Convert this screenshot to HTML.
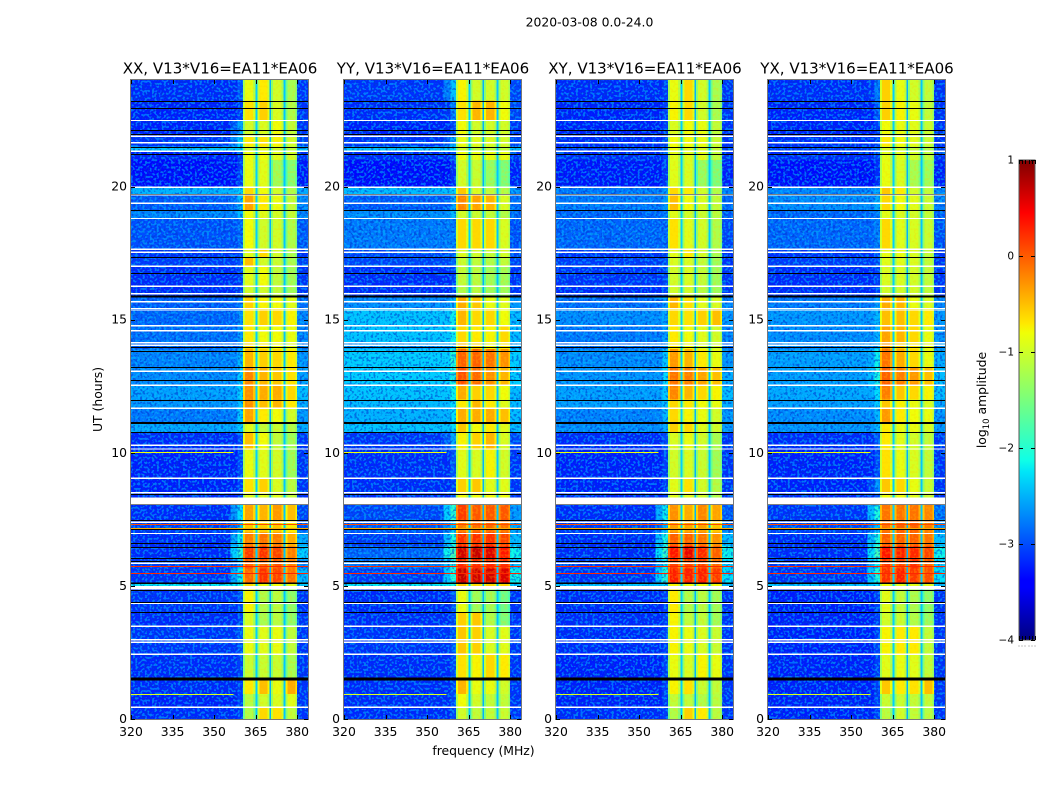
<!DOCTYPE html>
<html lang="en">
<head>
<meta charset="utf-8">
<title>2020-03-08 spectrogram</title>
<style>
html,body{margin:0;padding:0;background:#fff;}
svg{display:block;}
text{font-family:"DejaVu Sans","Liberation Sans",sans-serif;fill:#000;}
</style>
</head>
<body>
<svg id="fig" xmlns="http://www.w3.org/2000/svg" width="1050" height="800" viewBox="0 0 1050 800">
  <defs>
    <linearGradient id="jet" x1="0" y1="1" x2="0" y2="0">
      <stop offset="0" stop-color="#00007f"/>
      <stop offset="0.11" stop-color="#0000ff"/>
      <stop offset="0.125" stop-color="#0000ff"/>
      <stop offset="0.35" stop-color="#00e5f8"/>
      <stop offset="0.375" stop-color="#10ffe6"/>
      <stop offset="0.64" stop-color="#f0ff06"/>
      <stop offset="0.66" stop-color="#ffe800"/>
      <stop offset="0.89" stop-color="#ff0000"/>
      <stop offset="0.91" stop-color="#e80000"/>
      <stop offset="1" stop-color="#7f0000"/>
    </linearGradient>
    <filter id="speckDark" x="0" y="0" width="100%" height="100%">
      <feTurbulence type="fractalNoise" baseFrequency="0.42" numOctaves="1" seed="4"/>
      <feColorMatrix type="matrix" values="0 0 0 0 0  0 0 0 0 0.04  0 0 0 0 0.62  12 0 0 0 -6.2"/>
    </filter>
    <filter id="speckLight" x="0" y="0" width="100%" height="100%">
      <feTurbulence type="fractalNoise" baseFrequency="0.42" numOctaves="1" seed="11"/>
      <feColorMatrix type="matrix" values="0 0 0 0 0  0 0 0 0 0.55  0 0 0 0 1  12 0 0 0 -6.2"/>
    </filter>
    <filter id="speckWarm" x="0" y="0" width="100%" height="100%">
      <feTurbulence type="fractalNoise" baseFrequency="0.42" numOctaves="1" seed="23"/>
      <feColorMatrix type="matrix" values="0 0 0 0 1  0 0 0 0 0.62  0 0 0 0 0  12 0 0 0 -6.2"/>
    </filter>
  </defs>
  <text x="589.5" y="26.5" font-size="12.4" text-anchor="middle">2020-03-08 0.0-24.0</text>
  <g id="panels"></g>
  <text x="483.5" y="755" font-size="12.4" text-anchor="middle">frequency (MHz)</text>
  <text x="0" y="0" font-size="12.4" text-anchor="middle" transform="translate(102,399.5) rotate(-90)">UT (hours)</text>
  <g id="colorbar">
    <rect x="1019" y="160" width="16" height="480" fill="url(#jet)"/>
    <rect x="1019" y="160" width="16" height="480" fill="none" stroke="#555" stroke-width="1"/>
  </g>
  <text x="0" y="0" font-size="12.4" text-anchor="middle" transform="translate(986,400) rotate(-90)">log<tspan font-size="8.5" dy="3">10</tspan><tspan dy="-3"> amplitude</tspan></text>
</svg>
<script>
const NS = 'http://www.w3.org/2000/svg';

// ---- categories and tick labels ----
const panelTitles = ['XX, V13*V16=EA11*EA06', 'YY, V13*V16=EA11*EA06', 'XY, V13*V16=EA11*EA06', 'YX, V13*V16=EA11*EA06'];
const freqTicks = [320, 335, 350, 365, 380];
const hourTicks = [0, 5, 10, 15, 20];
const colorTicks = [1, 0, -1, -2, -3, -4];
const colorTickLabels = ['1', '0', '\u22121', '\u22122', '\u22123', '\u22124'];

// time-block edges in hours (UT)
const timeEdges = [0, .44, .93, 1.47, 2.43, 3.47, 4.01, 4.9, 5.1, 5.65, 6.0, 6.5, 7.0, 7.45, 8.06, 8.5, 9.04, 10.14, 10.77, 11.12, 11.67, 12.0, 12.54, 13.2, 13.9, 14.1, 14.77, 15.4, 15.87, 16.25, 17.0, 17.34, 17.64, 18.8, 19.1, 19.7, 19.97, 21.0, 21.32, 21.5, 21.9, 22.48, 23.23, 24];

// frequency channels in MHz: low edge, high edge, level source
const chanLow  = [320, 352, 356, 358.4, 360.4, 361.2, 364.1, 364.9, 365.6, 366.3, 369.2, 370, 370.6, 371.3, 374.4, 375.1, 375.8, 376.5, 379.3, 380];
const chanHigh = [352, 356, 358.4, 360.4, 361.2, 364.1, 364.9, 365.6, 366.3, 369.2, 370, 370.6, 371.3, 374.4, 375.1, 375.8, 376.5, 379.3, 380, 384];
// source column per channel: 0 bg, 1 transition, 2-5 sub-bands, 6 right edge, -1 flagged gap
const chanSource = [0, 0, 1, 1, 2, 2, 2, -1, 3, 3, 3, -1, 4, 4, 4, -1, 5, 5, 5, 6];
// level offset (log10) of each channel relative to its source
const chanOffset = [-.2, -.2, -.45, -.08, -.4, 0, -.3, -2.35, -.4, 0, -.3, -2.5, -.4, 0, -.3, -2.4, -.35, 0, -.3, -.15];

// log10 amplitude per time block, bottom to top: [bg, transition, s1, s2, s3, s4, right]
const levelsXX = [
[-3,-3,-1.2,-.6,-.65,-1.1,-3],[-3.05,-3,-1.15,-1,-.95,-.9,-3],[-3,-3,-.7,-.45,-.85,-.35,-3],[-3,-3,-1.05,-1.05,-1.05,-1.25,-3],
[-2.95,-2.9,-.85,-.9,-.85,-1.1,-3],[-3,-3,-.95,-1.25,-1.15,-1.4,-3],[-2.95,-2.9,-.75,-1.2,-1.15,-1.4,-3],[-2,-2,-.6,-.8,-.8,-.9,-2.2],
[-2.95,-2.1,0,.3,.2,-.05,-2.3],[-2.9,-2.4,.1,.05,.1,-.1,-2.7],[-3,-1.9,.25,.3,.2,-.1,-2.2],[-3,-2.1,-.1,-.05,-.1,-.35,-2.4],
[-2.9,-2.4,-.5,-.55,-.5,-.7,-2.8],[-3,-2.2,-.3,-.4,-.25,-.45,-2.9],[-3,-3,-.9,-.9,-.9,-1.1,-3],[-3.05,-3,-.65,-.55,-.95,-1.15,-3],
[-3.05,-2.95,-.85,-.9,-1,-1.3,-3],[-3,-2.95,-.45,-.8,-1.1,-1.3,-3],[-2.35,-2.3,-.9,-1.1,-1.05,-1.2,-2.4],[-2.6,-2.3,-.3,-.7,-.8,-1,-2.5],
[-2.45,-2.35,-.2,-.45,-.4,-.7,-2.4],[-2.4,-2.25,-.2,-.35,-.35,-.6,-2.3],[-2.5,-2.3,-.15,-.4,-.5,-.65,-2.45],[-2.55,-2.4,-.4,-.55,-.6,-.7,-2.5],
[-2.7,-2.6,-.6,-.7,-.8,-.9,-2.6],[-2.65,-2.6,-.7,-.8,-.8,-.85,-2.6],[-2.7,-2.6,-.65,-.55,-.6,-.75,-2.6],[-2.75,-2.7,-.55,-.75,-.8,-.9,-2.7],
[-3,-3,-1,-1,-1.1,-1.3,-3],[-3,-3,-.9,-.8,-1.1,-1.3,-3],[-2.9,-2.9,-.45,-1,-1.05,-1.25,-2.9],[-2.95,-2.95,-.9,-.6,-1,-1.25,-3],
[-2.8,-2.8,-.8,-1,-1,-1.2,-2.8],[-2.55,-2.4,-.8,-.9,-1,-1.1,-2.6],[-2.75,-2.4,-.3,-.7,-.85,-1.1,-2.6],[-2.3,-2.3,-.6,-.8,-1,-1.2,-2.4],
[-3.15,-3,-.85,-.9,-1.3,-1.45,-3.15],[-3.05,-3,-.8,-.8,-.9,-1,-3],[-2.2,-2.2,-1,-.9,-1,-1.1,-2.2],[-2.95,-2.3,-.7,-.65,-.75,-1,-2.9],
[-3.05,-2.5,-1,-.95,-.8,-1.1,-3],[-3.05,-3,-.65,-.55,-.95,-1.2,-3],[-3,-2.9,-.85,-.7,-1,-1.25,-3]
];
const levelsYY = [
[-3,-2.95,-1,-1.1,-1.1,-1.05,-3],[-3,-2.95,-.8,-1,-1.1,-1.1,-3],[-3,-2.95,-.4,-.85,-.85,-1,-3],[-3,-2.95,-.65,-.75,-.6,-.7,-3],
[-2.95,-2.9,-.5,-.55,-.95,-.9,-3],[-3,-2.95,-.55,-.5,-1.2,-1.5,-3],[-3,-2.9,-.85,-1.3,-1.3,-1.6,-3],[-2,-2,-.5,-.6,-.6,-.6,-2.2],
[-2.9,-1.95,.7,.65,.65,.6,-2],[-2.6,-2,.35,.3,.35,.3,-2.3],[-2.7,-1.7,.65,.7,.6,.45,-2],[-2.9,-2,.3,.3,.3,.2,-2.3],
[-2.75,-2.3,-.1,0,0,-.05,-2.4],[-2.85,-1.9,.25,.1,.1,.1,-2.5],[-3,-2.9,-.8,-.8,-.8,-.8,-3],[-3,-3,-.55,-.5,-.9,-.9,-3],
[-3,-2.9,-.9,-.95,-.75,-1,-3],[-2.95,-2.5,-.75,-.55,-.4,-.95,-2.9],[-2.2,-2.2,-.5,-.8,-.7,-.9,-2.3],[-2.3,-2.2,-.35,-.35,-.35,-.45,-2.3],
[-2.25,-2.2,-.7,-.4,-.7,-.9,-2.3],[-2.2,-2.1,-.35,-.55,-.6,-.8,-2.3],[-2.15,-2,.15,0,-.2,-.4,-2.2],[-2.15,-1.95,.05,.05,-.05,-.2,-2.2],
[-2.4,-2.3,-.45,-.6,-.8,-.7,-2.4],[-2.2,-2.1,-.6,-.7,-.75,-.6,-2.3],[-2.2,-2.1,-.4,-.6,-.6,-.8,-2.3],[-2.5,-2.4,-.35,-.5,-.85,-.9,-2.5],
[-3,-3,-1.2,-1.15,-1.3,-1.3,-3],[-3,-3,-1.1,-1.15,-1.3,-1.3,-3],[-2.85,-2.8,-1.05,-1.1,-1.2,-1.1,-2.9],[-2.85,-2.8,-.95,-1,-1.1,-1,-2.9],
[-2.6,-2.7,-.6,-.6,-.6,-.95,-2.85],[-2.5,-2.4,-1,-1.05,-1.1,-1.2,-2.7],[-2.75,-2.5,-.15,-.3,-.4,-.95,-2.7],[-2.25,-2.25,-.5,-.95,-1.1,-1.2,-2.5],
[-3.15,-3.1,-1,-1.05,-1.35,-1.5,-3.1],[-3,-2.9,-.8,-.85,-.85,-.85,-3],[-2.2,-2.2,-1,-1.1,-1.1,-1.1,-2.3],[-2.95,-2.5,-.85,-.9,-.95,-1,-2.9],
[-3.05,-2.95,-.8,-1,-1,-1,-3],[-3,-2.7,-.65,-.4,-.4,-.8,-2.9],[-2.95,-2.35,-.75,-1,-1,-1,-2.9]
];
const levelsXY = [
[-3,-3,-1.2,-.55,-.7,-1.15,-3],[-3.05,-3,-1.1,-1.1,-1.2,-1.15,-3],[-3.05,-3,-.75,-.65,-1.05,-1.1,-3],[-3.05,-3,-.85,-.95,-.75,-.85,-3],
[-3,-3,-.75,-.85,-.95,-1.05,-3],[-3,-3,-.75,-1.1,-1.1,-1.3,-3],[-3,-3,-.7,-1.2,-1.15,-1.3,-3],[-2.2,-2.2,-.75,-.8,-.8,-.8,-2.3],
[-2.95,-1.9,.4,.4,.4,.25,-2.1],[-2.9,-2.1,.2,.2,.2,0,-2.2],[-3,-1.8,.45,.55,.35,.05,-2],[-3,-2,.05,.05,-.05,-.2,-2.3],
[-2.9,-2.4,-.3,-.3,-.3,-.5,-2.6],[-3,-2.1,-.2,-.35,-.15,-.3,-2.8],[-3,-3,-.9,-.9,-1,-1.2,-3],[-3.05,-3,-.9,-.65,-1,-1.2,-3],
[-3.05,-3,-1,-.95,-1.05,-1.3,-3],[-3,-2.95,-.95,-.85,-1,-1.25,-3],[-2.5,-2.45,-.55,-.6,-.9,-1,-2.5],[-2.55,-2.4,-.6,-.75,-.85,-1,-2.5],
[-2.4,-2.35,-.6,-.7,-.8,-.85,-2.4],[-2.4,-2.3,-.15,-.4,-.6,-.75,-2.3],[-2.45,-2.2,-.05,-.1,-.3,-.45,-2.4],[-2.5,-2.3,-.25,-.4,-.7,-.85,-2.5],
[-2.65,-2.6,-.7,-.8,-.95,-1,-2.7],[-2.6,-2.55,-.7,-.8,-.9,-1,-2.6],[-2.5,-2.5,-.6,-.65,-.55,-.45,-2.5],[-2.65,-2.6,-.4,-.65,-.9,-.95,-2.6],
[-3,-3,-1,-1,-1.15,-1.3,-3],[-2.95,-2.95,-1,-.95,-1.1,-1.3,-3],[-2.9,-2.9,-.95,-.95,-1.1,-1.3,-3],[-2.95,-2.95,-.9,-.7,-1,-1.25,-3],
[-2.7,-2.8,-.65,-.9,-1,-1.2,-2.9],[-2.7,-2.7,-.9,-1,-1.05,-1.15,-2.8],[-2.6,-2.55,-.45,-.8,-.95,-1.1,-2.7],[-2.6,-2.6,-.6,-.7,-1,-1.2,-2.6],
[-3.1,-3.05,-.9,-.95,-1.35,-1.5,-3.1],[-3,-2.95,-.9,-.9,-.9,-1.1,-3],[-2.9,-2.8,-.8,-.9,-.95,-1.1,-2.9],[-3,-2.95,-.8,-.8,-.85,-1.05,-3],
[-3.05,-3,-.95,-.8,-.85,-1.1,-3],[-3.05,-3,-.75,-.6,-1,-1.25,-3],[-3,-3,-.85,-.6,-1,-1.25,-3]
];
const levelsYX = [
[-3.05,-3,-1.15,-1,-1.1,-1.15,-3],[-3.05,-3,-1.05,-1.05,-1.1,-1.1,-3],[-3.05,-3,-.5,-.7,-.65,-.45,-3],[-3.05,-3,-.9,-.85,-.9,-1.1,-3],
[-3.05,-3,-.75,-.7,-.7,-1.1,-3],[-3.05,-3,-1,-1.05,-1.2,-1.35,-3],[-3.05,-3,-.9,-1.1,-1.25,-1.4,-3],[-2.2,-2.2,-.8,-.9,-.9,-.9,-2.3],
[-2.95,-1.95,.3,.4,.25,.15,-2.1],[-2.9,-2.1,.25,.2,.3,.1,-2.2],[-3,-1.8,.45,.4,.35,.2,-2],[-3,-2,.05,.05,.05,-.05,-2.3],
[-2.85,-2.4,-.05,.05,.05,-.1,-2.5],[-2.95,-2,-.05,-.05,-.05,-.15,-2.7],[-3,-2.9,-.8,-.8,-.9,-1.05,-3],[-3.05,-2.6,-.5,-.6,-.85,-1.05,-3],
[-3.05,-2.95,-.65,-.85,-.95,-1.1,-3],[-3,-2.9,-.7,-.9,-1,-1.1,-3],[-2.45,-2.4,-.7,-.85,-.85,-.95,-2.5],[-2.5,-2.4,-.25,-.7,-.8,-.85,-2.5],
[-2.4,-2.3,-.5,-.75,-.85,-.95,-2.4],[-2.35,-2.2,-.1,-.5,-.6,-.75,-2.3],[-2.4,-2,.05,-.1,-.25,-.45,-2.3],[-2.4,-2.1,-.05,-.35,-.6,-.85,-2.4],
[-2.5,-2.4,-.25,-.55,-.7,-.85,-2.5],[-2.5,-2.45,-.3,-.4,-.6,-.85,-2.5],[-2.45,-2.4,-.45,-.45,-.6,-.7,-2.5],[-2.6,-2.55,-.35,-.4,-.85,-.95,-2.6],
[-3,-3,-1,-1,-1,-1.1,-3],[-3,-3,-.95,-.95,-1,-1.1,-3],[-2.9,-2.9,-.9,-.9,-.95,-1.1,-3],[-2.95,-2.95,-.85,-.85,-.95,-1.1,-3],
[-2.7,-2.7,-.6,-.9,-.95,-1.05,-2.85],[-2.7,-2.7,-.9,-.95,-1,-1.1,-2.8],[-2.5,-2.45,-.6,-.8,-.9,-1.05,-2.6],[-2.55,-2.5,-.5,-.7,-1,-1.1,-2.6],
[-3.15,-3.1,-.85,-.95,-1.25,-1.3,-3.1],[-3,-3,-.9,-.9,-1,-1.1,-3],[-2.9,-2.8,-.95,-1,-1.1,-1.2,-2.9],[-3,-3,-.7,-.8,-.9,-1.05,-3],
[-3.05,-3,-.8,-.85,-.9,-1.05,-3],[-3.05,-2.9,-.55,-.75,-.85,-1.1,-3],[-3,-2.7,-.55,-.85,-1,-1.1,-3]
];
const panelLevels = [levelsXX, levelsYY, levelsXY, levelsYX];

// flagged (white) and dropped (black) integrations, hours
const whiteHours = [22.48, 21.89, 21.64, 21.32, 19.97, 19.68, 19.37, 18.8, 17.64, 17.53, 17, 16.25, 15.97, 15.67, 15.42, 15.36, 14.77, 14.58, 14.13, 14.04, 13.06, 12.54, 11.67, 10.28, 10.14, 9.04, 8.5, 7.39, 6.97, 5.85, 4.34, 2.98, 2.88, 2.43, .44];
const whiteSpanStart = [8.06, 4.87, 3.45];
const whiteSpanEnd = [8.31, 4.99, 3.51];
const blackHours = [23.23, 22.93, 22.14, 21.96, 21.49, 21.22, 19.7, 19.11, 17.34, 16.75, 13.98, 13.81, 13.21, 12.72, 11.97, 10.77, 8.44, 8.07, 7.48, 7.13, 6.6, 6.45, 6.06, 5.92, 4.84, 4.4, 4.01];
const blackSpanStart = [15.83, 11.08, 5.07, 1.44];
const blackSpanEnd = [15.9, 11.16, 5.13, 1.55];

// narrow-band interference lines
const accentHours = [7.33, 7.17, 5.73, 5.47, 10.01, .93];
const accentLevels = [.15, -.35, .35, .35, -.8, -.9];
const accentEndFreq = [384, 384, 384, 384, 357, 357];

// ---- axis functions ----
const panelLefts = [131, 344, 556, 768];
const AX_TOP = 80, AX_BOTTOM = 719, AX_WIDTH = 177;
const PX_PER_MHZ = 2.77;
const yOf = h => AX_BOTTOM - (h / 24) * (AX_BOTTOM - AX_TOP);
const xOf = (left, f) => left + (f - 320) * PX_PER_MHZ;

function jetChannel(t, pts) {
  for (let i = 1; i < pts.length; i++) {
    if (t <= pts[i][0]) {
      const a = pts[i - 1], b = pts[i];
      return a[1] + (b[1] - a[1]) * (t - a[0]) / (b[0] - a[0]);
    }
  }
  return pts[pts.length - 1][1];
}
function jet(level) {
  const t = Math.max(0, Math.min(1, (level + 4) / 5));
  const r = jetChannel(t, [[0, 0], [.35, 0], [.66, 1], [.89, 1], [1, .5]]);
  const g = jetChannel(t, [[0, 0], [.125, 0], [.375, 1], [.64, 1], [.91, 0], [1, 0]]);
  const b = jetChannel(t, [[0, .5], [.11, 1], [.34, 1], [.65, 0], [1, 0]]);
  return 'rgb(' + Math.round(r * 255) + ',' + Math.round(g * 255) + ',' + Math.round(b * 255) + ')';
}
function mk(tag, attrs, parent) {
  const el = document.createElementNS(NS, tag);
  for (const k in attrs) el.setAttribute(k, attrs[k]);
  parent.appendChild(el);
  return el;
}

const panelsRoot = document.getElementById('panels');
panelLefts.forEach((left, p) => {
  const g = mk('g', {}, panelsRoot);
  
  

  const heat = mk('g', { 'shape-rendering': 'crispEdges' }, g);
  
  
  const levels = panelLevels[p];
  levels.forEach((row, r) => {
    const y0 = yOf(timeEdges[r + 1]), y1 = yOf(timeEdges[r]);
    chanLow.forEach((lo, c) => {
      const src = chanSource[c];
      let level = src < 0 ? chanOffset[c] : row[src] + chanOffset[c];
      if (src === 1) level = Math.max(level, row[0] + chanOffset[0]);
      const cell = mk('rect', {
        x: xOf(left, lo).toFixed(2),
        y: y0.toFixed(2),
        width: Math.min(xOf(left, chanHigh[c]) - xOf(left, lo), left + AX_WIDTH - xOf(left, lo)).toFixed(2),
        height: (y1 - y0).toFixed(2),
        fill: jet(level)
      }, heat);
      
      
    });
  });

  // speckle over the off-band regions
  [[320, 360.4], [380, 384]].forEach(range => {
    ['speckDark', 'speckLight'].forEach(f => {
      const sp = mk('rect', {
        x: xOf(left, range[0]), y: AX_TOP,
        width: xOf(left, range[1]) - xOf(left, range[0]),
        height: AX_BOTTOM - AX_TOP,
        filter: 'url(#' + f + ')', opacity: f === 'speckDark' ? .55 : .5
      }, g);
      
      
    });
  });
  // faint speckle inside the sub-bands
  [[361.2, 364.9], [366.3, 370], [371.3, 375.1], [376.5, 380]].forEach(range => {
    const sp = mk('rect', {
      x: xOf(left, range[0]), y: AX_TOP,
      width: xOf(left, range[1]) - xOf(left, range[0]),
      height: AX_BOTTOM - AX_TOP,
      filter: 'url(#speckWarm)', opacity: .22
    }, g);
    
    
  });

  const lines = mk('g', { 'shape-rendering': 'crispEdges' }, g);
  
  
  blackHours.forEach(h => {
    const ln = mk('rect', { x: left, y: Math.round(yOf(h)), width: AX_WIDTH, height: 1, fill: '#000' }, lines);
    
    
  });
  blackSpanStart.forEach((h, i) => {
    const ln = mk('rect', { x: left, y: yOf(blackSpanEnd[i]), width: AX_WIDTH, height: yOf(h) - yOf(blackSpanEnd[i]), fill: '#000' }, lines);
    
    
  });
  whiteHours.forEach(h => {
    const ln = mk('rect', { x: left, y: yOf(h) - .65, width: AX_WIDTH, height: 1.3, fill: '#fff' }, lines);
    
    
  });
  whiteSpanStart.forEach((h, i) => {
    const ln = mk('rect', { x: left, y: yOf(whiteSpanEnd[i]), width: AX_WIDTH, height: yOf(h) - yOf(whiteSpanEnd[i]), fill: '#fff' }, lines);
    
    
  });
  accentHours.forEach((h, i) => {
    const ln = mk('rect', {
      x: left, y: Math.round(yOf(h)),
      width: xOf(left, accentEndFreq[i]) - left > AX_WIDTH ? AX_WIDTH : xOf(left, accentEndFreq[i]) - left,
      height: 1, fill: jet(accentLevels[i])
    }, lines);
    
    
  });

  const frame = mk('rect', { x: left - .5, y: AX_TOP - .5, width: AX_WIDTH + 1, height: AX_BOTTOM - AX_TOP + 1, fill: 'none', stroke: '#777', 'stroke-width': 1 }, g);
  
  

  const title = mk('text', { x: left + AX_WIDTH / 2 + .5, y: 73.5, 'font-size': 15.05, 'text-anchor': 'middle' }, g);
  title.textContent = panelTitles[p];
  
  

  freqTicks.forEach(f => {
    const x = Math.round(xOf(left, f)) + .5;
    [[AX_BOTTOM, AX_BOTTOM - 4], [AX_TOP, AX_TOP + 4]].forEach(t => {
      const tk = mk('line', { x1: x, x2: x, y1: t[0], y2: t[1], stroke: '#000', 'stroke-width': 1 }, g);
      
      
    });
    const lbl = mk('text', { x: xOf(left, f), y: 736, 'font-size': 12.4, 'text-anchor': 'middle' }, g);
    lbl.textContent = f;
    
    
  });
  hourTicks.forEach(h => {
    const y = Math.round(yOf(h)) + .5;
    [[left, left + 4], [left + AX_WIDTH, left + AX_WIDTH - 4]].forEach(t => {
      const tk = mk('line', { x1: t[0], x2: t[1], y1: y, y2: y, stroke: '#000', 'stroke-width': 1 }, g);
      
      
    });
    const lbl = mk('text', { x: left - 4, y: yOf(h) + 4, 'font-size': 12.4, 'text-anchor': 'end' }, g);
    lbl.textContent = h;
    
    
  });
});

// ---- colorbar ticks ----
const cb = document.getElementById('colorbar');
const CB_LEFT = 1019, CB_RIGHT = 1035, CB_TOP = 160, CB_BOTTOM = 640;
const cbY = v => CB_TOP + (1 - v) / 5 * (CB_BOTTOM - CB_TOP);
colorTicks.forEach((v, i) => {
  const y = Math.round(cbY(v)) + .5;
  [[CB_LEFT, CB_LEFT + 4], [CB_RIGHT, CB_RIGHT - 4]].forEach(t => {
    const tk = mk('line', { x1: t[0], x2: t[1], y1: y, y2: y, stroke: '#000', 'stroke-width': 1 }, cb);
    
    
  });
  const lbl = mk('text', { x: CB_LEFT - 5, y: cbY(v) + 3.5, 'font-size': 10.5, 'text-anchor': 'end' }, cb);
  lbl.textContent = colorTickLabels[i];
  
  
});
[0, 1, 2, 3, 4, 5].forEach(n => {
  const x = Math.round(CB_LEFT + n * (CB_RIGHT - CB_LEFT) / 5) + .5;
  [[CB_TOP, CB_TOP + 4], [CB_BOTTOM, CB_BOTTOM - 4]].forEach(t => {
    const tk = mk('line', { x1: x, x2: x, y1: t[0], y2: t[1], stroke: '#000', 'stroke-width': 1 }, cb);
    
    
  });
  const dot = mk('rect', { x: x - 1, y: 645.5, width: 1, height: 1, fill: '#888' }, cb);
  
  
});
</script>
</body>
</html>
